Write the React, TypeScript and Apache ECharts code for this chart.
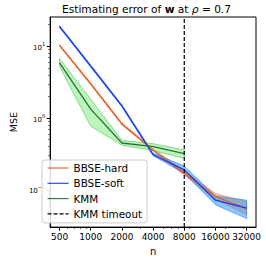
import React, { useEffect, useRef } from "react";
import * as echarts from "echarts";

const nValues = [500, 1000, 2000, 4000, 8000, 16000, 32000];
const hardMean = [10.3, 3.0, 0.83, 0.36, 0.17, 0.081, 0.055];
const hardLower = [10.0, 2.9, 0.8, 0.35, 0.16, 0.074, 0.045];
const hardUpper = [10.6, 3.1, 0.86, 0.375, 0.185, 0.089, 0.069];
const softMean = [18.8, 5.3, 1.48, 0.31, 0.19, 0.072, 0.056];
const softLower = [18.3, 5.1, 1.43, 0.3, 0.17, 0.062, 0.04];
const softUpper = [19.3, 5.5, 1.53, 0.325, 0.215, 0.082, 0.072];
const kmmN = [500, 1000, 2000, 4000, 8000];
const kmmMean = [5.87, 1.33, 0.45, 0.4, 0.32];
const kmmLower = [5.2, 0.77, 0.42, 0.354, 0.275];
const kmmUpper = [6.7, 1.83, 0.49, 0.44, 0.36];
const timeoutN = 8000;
const xMajorTicks = [500, 1000, 2000, 4000, 8000, 16000, 32000];
const xMinorTicks = [600, 700, 800, 900, 3000, 5000, 6000, 7000, 9000, 20000, 30000];
const yMajorTicks = [0.1, 1, 10];
const yMinorTicks = [0.04, 0.05, 0.06, 0.07, 0.08, 0.09, 0.2, 0.3, 0.4, 0.5, 0.6, 0.7, 0.8, 0.9, 2, 3, 4, 5, 6, 7, 8, 9, 20];
const xMin = 406.1;
const xMax = 39404;
const yMin = 0.0304;
const yMax = 25.5;

const FONT = "DejaVu Sans";

function band(name: string, xs: number[], lo: number[], hi: number[], fill: string, stroke: string) {
  return {
    type: "custom",
    name,
    silent: true,
    coordinateSystem: "cartesian2d",
    xAxisIndex: 0,
    yAxisIndex: 0,
    data: [[xs[0], hi[0]]],
    renderItem: (_params: any, api: any) => {
      const top = xs.map((x, i) => api.coord([x, hi[i]]));
      const bot = xs.map((x, i) => api.coord([x, lo[i]])).reverse();
      return {
        type: "polygon",
        shape: { points: top.concat(bot) },
        style: { fill, stroke, lineWidth: 0.8 },
      };
    },
  };
}

function lineSeries(name: string, xs: number[], ys: number[], color: string, extra: any = {}) {
  return {
    type: "line",
    name,
    xAxisIndex: 0,
    yAxisIndex: 0,
    symbol: "none",
    data: xs.map((x, i) => [x, ys[i]]),
    lineStyle: { color, width: 1.3, ...(extra.lineStyle || {}) },
    itemStyle: { color },
  };
}

export default function App() {
  const ref = useRef<HTMLDivElement>(null);
  useEffect(() => {
    if (!ref.current) return;
    const chart = echarts.init(ref.current, undefined, { renderer: "svg" });
    const supFmt = (v: number) => {
      const e = Math.round(Math.log10(v));
      return "{b|10}{s|" + (e < 0 ? "\u2212" + -e : String(e)) + "}";
    };
    const option: any = {
      animation: false,
      backgroundColor: "#fff",
      textStyle: { fontFamily: FONT },
      grid: {
        left: 37,
        right: 10,
        top: 17,
        bottom: 32,
        show: true,
        borderColor: "#000",
        borderWidth: 1,
        backgroundColor: "transparent",
      },
      graphic: [
        {
          type: "text",
          x: 146.5,
          y: 3,
          style: {
            text: "Estimating error of {b|w} at {i|\u03c1} = 0.7",
            fontFamily: FONT,
            fontSize: 10.6,
            fill: "#000",
            align: "center",
            verticalAlign: "top",
            rich: {
              b: { fontWeight: "bold", fontSize: 10.6, fontFamily: FONT, fill: "#000" },
              i: { fontStyle: "italic", fontSize: 10.6, fontFamily: FONT, fill: "#000" },
            },
          },
        },
      ],
      legend: {
        orient: "vertical",
        left: 42,
        top: 160,
        padding: [3, 5, 4, 5],
        itemWidth: 21,
        itemHeight: 10,
        itemGap: 5.3,
        borderColor: "#ccc",
        borderWidth: 1,
        borderRadius: 3,
        backgroundColor: "rgba(255,255,255,0.85)",
        itemStyle: { opacity: 0 },
        lineStyle: { width: 1.1 },
        data: ["BBSE-hard", "BBSE-soft", "KMM", "KMM timeout"],
        textStyle: { fontFamily: FONT, fontSize: 10.4, color: "#000", lineHeight: 10 },
      },
      xAxis: [
        {
          type: "log",
          logBase: 10,
          min: xMin,
          max: xMax,
          name: "n",
          nameLocation: "middle",
          nameGap: 13,
          nameTextStyle: { fontFamily: FONT, fontSize: 10, color: "#000" },
          axisLine: { lineStyle: { color: "#000", width: 1 } },
          axisTick: { customValues: xMajorTicks, length: 3.5, lineStyle: { color: "#000" } },
          axisLabel: {
            customValues: xMajorTicks,
            formatter: (v: number) => String(Math.round(v)),
            fontFamily: FONT,
            fontSize: 9,
            color: "#000",
            margin: 5,
          },
          splitLine: { show: false },
          minorTick: { show: false },
        },
        {
          type: "log",
          logBase: 10,
          min: xMin,
          max: xMax,
          position: "bottom",
          axisLine: { show: false },
          axisTick: { customValues: xMinorTicks, length: 2, lineStyle: { color: "#000", width: 0.6 } },
          axisLabel: { show: false },
          splitLine: { show: false },
        },
      ],
      yAxis: [
        {
          type: "log",
          logBase: 10,
          min: yMin,
          max: yMax,
          name: "MSE",
          nameLocation: "middle",
          nameGap: 26,
          nameTextStyle: { fontFamily: FONT, fontSize: 9.5, color: "#000" },
          axisLine: { show: true, lineStyle: { color: "#000", width: 1 } },
          axisTick: { show: true, customValues: yMajorTicks, length: 3.5, lineStyle: { color: "#000" } },
          axisLabel: {
            customValues: yMajorTicks,
            formatter: supFmt,
            margin: 5,
            color: "#000",
            rich: {
              b: { fontFamily: FONT, fontSize: 7, color: "#000", lineHeight: 10, verticalAlign: "bottom" },
              s: { fontFamily: FONT, fontSize: 5, color: "#000", lineHeight: 10, verticalAlign: "top" },
            },
          },
          splitLine: { show: false },
        },
        {
          type: "log",
          logBase: 10,
          min: yMin,
          max: yMax,
          position: "left",
          axisLine: { show: false },
          axisTick: { show: true, customValues: yMinorTicks, length: 2, lineStyle: { color: "#000", width: 0.6 } },
          axisLabel: { show: false },
          splitLine: { show: false },
        },
      ],
      series: [
        band("hardBand", nValues, hardLower, hardUpper, "rgba(240,130,60,0.45)", "rgba(230,110,50,0.6)"),
        lineSeries("BBSE-hard", nValues, hardMean, "#e4602a"),
        band("softBand", nValues, softLower, softUpper, "rgba(30,144,255,0.5)", "rgba(30,120,240,0.7)"),
        lineSeries("BBSE-soft", nValues, softMean, "#2338e6"),
        band("kmmBand", kmmN, kmmLower, kmmUpper, "rgba(120,235,120,0.5)", "rgba(70,190,80,0.7)"),
        lineSeries("KMM", kmmN, kmmMean, "#2c6e40"),
        lineSeries("KMM timeout", [timeoutN, timeoutN], [yMin, yMax], "#000", {
          lineStyle: { type: [4, 2], width: 1.2 },
        }),
      ],
    };
    chart.setOption(option);
    return () => chart.dispose();
  }, []);
  return (
    <div
      ref={ref}
      style={{ position: "fixed", left: 0, top: 0, width: 266, height: 261, background: "#fff" }}
    />
  );
}
